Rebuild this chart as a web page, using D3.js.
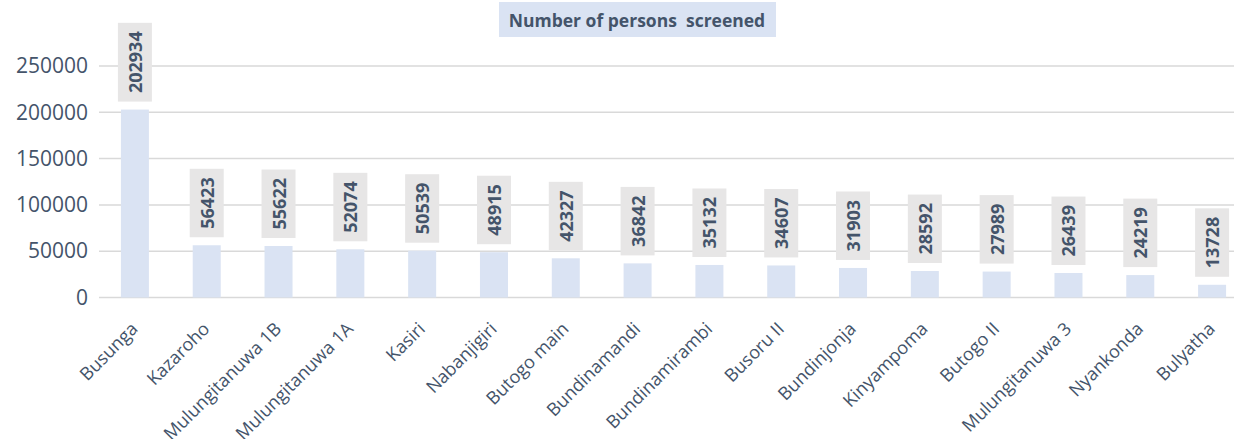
<!DOCTYPE html>
<html><head><meta charset="utf-8">
<script src="https://cdn.jsdelivr.net/npm/d3@7"></script>
<style>
html,body{margin:0;padding:0;background:#fff;}
svg{display:block;font-family:"Open Sans",sans-serif;}
</style></head>
<body>
<svg id="chart" width="1234" height="439"></svg>
<script>
const categories = ["Busunga","Kazaroho","Mulungitanuwa 1B","Mulungitanuwa 1A","Kasiri","Nabanjigiri","Butogo main","Bundinamandi","Bundinamirambi","Busoru II","Bundinjonja","Kinyampoma","Butogo II","Mulungitanuwa 3","Nyankonda","Bulyatha"];
const values = [202934,56423,55622,52074,50539,48915,42327,36842,35132,34607,31903,28592,27989,26439,24219,13728];
const yTicks = [0,50000,100000,150000,200000,250000];
const title = "Number of persons  screened";

const svg = d3.select("#chart");
const textColor = "#44546a";

const x = d3.scaleBand().domain(categories).range([99, 1248]).paddingInner(0.61).paddingOuter(0.305);
const y = d3.scaleLinear().domain([0, 250000]).range([297.5, 66]);

// gridlines
svg.append("g").selectAll("line").data(yTicks).join("line")
  .attr("x1", 99).attr("x2", 1234)
  .attr("y1", d => y(d)).attr("y2", d => y(d))
  .attr("stroke", "#d9d9d9").attr("stroke-width", 1.5);

// y tick labels
const yAxis = d3.axisLeft(y).tickValues(yTicks).tickSize(0).tickPadding(0).tickFormat(d3.format("d"));
const ga = svg.append("g").attr("transform", "translate(88,0)").call(yAxis);
ga.select(".domain").remove();
ga.selectAll("text").attr("font-family", "Open Sans").attr("font-size", 21).attr("fill", textColor);

// bars
svg.append("g").selectAll("rect").data(categories).join("rect")
  .attr("x", d => x(d)).attr("width", x.bandwidth())
  .attr("y", (d, i) => y(values[i])).attr("height", (d, i) => y(0) - y(values[i]))
  .attr("fill", "#dae3f3");

// data labels
const lab = svg.append("g").selectAll("g").data(categories).join("g")
  .attr("transform", (d, i) => `translate(${x(d) + x.bandwidth() / 2},${y(values[i]) - 8})`);
lab.each(function(d, i) {
  const g = d3.select(this);
  const t = g.append("text").text(values[i])
    .attr("font-family", "Open Sans").attr("font-weight", "bold").attr("font-size", 18)
    .attr("fill", textColor).attr("text-anchor", "middle").attr("dominant-baseline", "central");
  const w = t.node().getComputedTextLength();
  const len = w + 17;
  t.attr("transform", `translate(0,${-len / 2}) rotate(-90)`);
  g.insert("rect", "text").attr("x", -17).attr("width", 34).attr("y", -len).attr("height", len).attr("fill", "#e7e6e6");
});

// x labels
svg.append("g").selectAll("text").data(categories).join("text")
  .attr("transform", d => `translate(${x(d) + x.bandwidth() / 2 + 4},330) rotate(-45)`)
  .attr("text-anchor", "end")
  .attr("font-family", "Open Sans").attr("font-size", 18).attr("fill", textColor)
  .text(d => d);

// title
const tg = svg.append("g");
tg.append("rect").attr("x", 499).attr("y", 2).attr("width", 277).attr("height", 35).attr("fill", "#dae3f3");
tg.append("text").text(title).attr("x", 637).attr("y", 20)
  .attr("text-anchor", "middle").attr("dominant-baseline", "central")
  .attr("font-family", "Open Sans").attr("font-weight", "bold").attr("font-size", 17.5)
  .attr("fill", textColor).style("white-space", "pre");
</script>
</body></html>
